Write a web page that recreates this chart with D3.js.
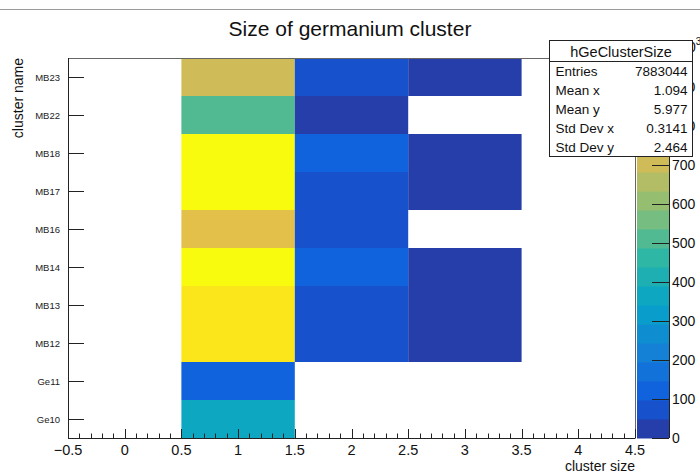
<!DOCTYPE html>
<html>
<head>
<meta charset="utf-8">
<script src="https://cdn.jsdelivr.net/npm/d3@7"></script>
<style>
  html, body { margin: 0; padding: 0; background: #fff; }
  svg { display: block; font-family: "Liberation Sans", Arial, Helvetica, sans-serif; }
</style>
</head>
<body>
<svg id="chart" width="700" height="473"></svg>
<script>
// Cluster names on the y axis (bottom to top)
const clusterNames = ["Ge10", "Ge11", "MB12", "MB13", "MB14", "MB16", "MB17", "MB18", "MB22", "MB23"];
// Cluster-size bins on the x axis
const sizeBins = [1, 2, 3];
// Counts per cluster name for each cluster size
const countsSize1 = [385000, 129000, 920000, 915000, 974000, 770000, 955000, 965000, 530000, 720000];
const countsSize2 = [0, 0, 55000, 55000, 110000, 55000, 55000, 110000, 25000, 55000];
const countsSize3 = [0, 0, 20000, 20000, 20000, 0, 20000, 20000, 0, 20000];
// x-axis tick labels
const xTickValues = [-0.5, 0, 0.5, 1, 1.5, 2, 2.5, 3, 3.5, 4, 4.5];
// colour-axis tick values (shown in units of 10^3)
const zTickValues = [0, 100000, 200000, 300000, 400000, 500000, 600000, 700000, 800000, 900000];
// statistics box
const statsName = "hGeClusterSize";
const statsLabels = ["Entries", "Mean x", "Mean y", "Std Dev x", "Std Dev y"];
const statsValues = ["7883044", "1.094", "5.977", "0.3141", "2.464"];

const nContours = 20;

// kBird palette
const birdStops = [0.0, 0.125, 0.25, 0.375, 0.5, 0.625, 0.75, 0.875, 1.0];
const birdR = [0.2082, 0.0592, 0.0780, 0.0232, 0.1802, 0.5301, 0.8186, 0.9956, 0.9764];
const birdG = [0.1664, 0.3599, 0.5041, 0.6419, 0.7178, 0.7492, 0.7328, 0.7862, 0.9832];
const birdB = [0.5293, 0.8684, 0.8385, 0.7914, 0.6425, 0.4662, 0.3499, 0.1968, 0.0539];
const birdColors = birdStops.map((s, i) => d3.rgb(birdR[i] * 255, birdG[i] * 255, birdB[i] * 255));
const bird = d3.scaleLinear().domain(birdStops).range(birdColors).interpolate(d3.interpolateRgb);

const seriesBySize = [countsSize1, countsSize2, countsSize3];
const cells = [];
sizeBins.forEach((s, si) => {
  clusterNames.forEach((name, ni) => {
    const v = seriesBySize[si][ni];
    if (v > 0) cells.push({ size: s, name: name, value: v });
  });
});

const zMax = d3.max(cells, d => d.value);
const bandOf = v => Math.min(nContours - 1, Math.floor(v / zMax * nContours));
const bandColor = i => bird(Math.min(1, (i + 0.99) / nContours));

const frame = { left: 68, right: 635, top: 58, bottom: 438 };
const svg = d3.select("#chart");

const x = d3.scaleLinear().domain([-0.5, 4.5]).range([frame.left, frame.right]);
const y = d3.scaleBand().domain(clusterNames).range([frame.bottom, frame.top]);
const z = d3.scaleLinear().domain([0, zMax]).range([frame.bottom, frame.top]);

// thin rule along the top of the canvas
svg.append("line").attr("x1", 0).attr("x2", 700).attr("y1", 9.5).attr("y2", 9.5)
  .attr("stroke", "#9a9a9a").attr("stroke-width", 1);

// title
svg.append("text").attr("x", 350).attr("y", 36).attr("text-anchor", "middle")
  .attr("font-size", 21).attr("fill", "#111").text("Size of germanium cluster");

// cells
svg.append("g").selectAll("rect").data(cells).join("rect")
  .attr("x", d => x(d.size - 0.5))
  .attr("width", d => x(d.size + 0.5) - x(d.size - 0.5))
  .attr("y", d => y(d.name))
  .attr("height", y.bandwidth())
  .attr("fill", d => bandColor(bandOf(d.value)));

// frame (top and right)
svg.append("path")
  .attr("d", `M${frame.left},${frame.top + 0.5}H${frame.right + 0.5}V${frame.bottom}`)
  .attr("fill", "none").attr("stroke", "#666").attr("stroke-width", 1);

// x axis with major ticks every 0.5 and minor ticks every 0.1
const xAxis = svg.append("g");
xAxis.append("line").attr("x1", frame.left).attr("x2", frame.right + 0.5)
  .attr("y1", frame.bottom + 0.5).attr("y2", frame.bottom + 0.5).attr("stroke", "#222");
const minorTicks = d3.range(0, 51).map(i => -0.5 + i * 0.1);
xAxis.selectAll("line.minor").data(minorTicks).join("line").attr("class", "minor")
  .attr("x1", d => Math.round(x(d)) + 0.5).attr("x2", d => Math.round(x(d)) + 0.5)
  .attr("y1", frame.bottom).attr("y2", (d, i) => frame.bottom - (i % 5 === 0 ? 9 : 4.5))
  .attr("stroke", "#222").attr("stroke-width", 1);
xAxis.selectAll("text").data(xTickValues).join("text")
  .attr("x", d => x(d)).attr("y", frame.bottom + 17)
  .attr("text-anchor", "middle").attr("font-size", 14.5).attr("fill", "#111")
  .text(d => d < 0 ? "\u2212" + Math.abs(d) : String(d));
svg.append("text").attr("x", frame.right).attr("y", 471).attr("text-anchor", "end")
  .attr("font-size", 14).attr("fill", "#111").text("cluster size");

// y axis
const yAxis = svg.append("g");
yAxis.append("line").attr("x1", frame.left + 0.5).attr("x2", frame.left + 0.5)
  .attr("y1", frame.top).attr("y2", frame.bottom + 1).attr("stroke", "#222");
yAxis.selectAll("line.tick").data(clusterNames).join("line").attr("class", "tick")
  .attr("x1", frame.left).attr("x2", frame.left + 16)
  .attr("y1", d => Math.round(y(d) + y.bandwidth() / 2) + 0.5)
  .attr("y2", d => Math.round(y(d) + y.bandwidth() / 2) + 0.5)
  .attr("stroke", "#222");
yAxis.selectAll("text").data(clusterNames).join("text")
  .attr("x", 60).attr("y", d => y(d) + y.bandwidth() / 2 + 3.5)
  .attr("text-anchor", "end").attr("font-size", 9.5).attr("fill", "#222")
  .text(d => d);
svg.append("text").attr("transform", `translate(23,${frame.top}) rotate(-90)`)
  .attr("text-anchor", "end").attr("font-size", 14).attr("fill", "#111").text("cluster name");

// colour palette
const pal = { x0: 637, x1: 669 };
const bandEdges = d3.range(nContours).map(i => ({ i: i, lo: zMax * i / nContours, hi: zMax * (i + 1) / nContours }));
svg.append("g").selectAll("rect").data(bandEdges).join("rect")
  .attr("x", pal.x0).attr("width", pal.x1 - pal.x0)
  .attr("y", d => z(d.hi)).attr("height", d => z(d.lo) - z(d.hi) + 0.5)
  .attr("fill", d => bandColor(d.i));
const zAxis = svg.append("g");
zAxis.append("line").attr("x1", pal.x1 + 0.5).attr("x2", pal.x1 + 0.5)
  .attr("y1", frame.top).attr("y2", frame.bottom).attr("stroke", "#222");
zAxis.selectAll("line.tick").data(zTickValues).join("line").attr("class", "tick")
  .attr("x1", pal.x1).attr("x2", pal.x1 - 17)
  .attr("y1", d => Math.round(z(d)) + 0.5).attr("y2", d => Math.round(z(d)) + 0.5)
  .attr("stroke", "#222");
zAxis.selectAll("text").data(zTickValues).join("text")
  .attr("x", pal.x1 + 3).attr("y", d => z(d) + 5)
  .attr("font-size", 14).attr("fill", "#111").text(d => d / 1000);
const expo = zAxis.append("text").attr("x", 672).attr("y", 52).attr("font-size", 14).attr("fill", "#111");
expo.append("tspan").text("\u00d710");
expo.append("tspan").attr("dy", -7).attr("font-size", 10).text("3");

// statistics box
const sb = { x: 549.5, y: 40.5, w: 143, h: 116, head: 21 };
const stats = svg.append("g");
stats.append("rect").attr("x", sb.x).attr("y", sb.y).attr("width", sb.w).attr("height", sb.h)
  .attr("fill", "#fff").attr("stroke", "#222");
stats.append("line").attr("x1", sb.x).attr("x2", sb.x + sb.w)
  .attr("y1", sb.y + sb.head).attr("y2", sb.y + sb.head).attr("stroke", "#222");
stats.append("text").attr("x", sb.x + sb.w / 2).attr("y", sb.y + 16)
  .attr("text-anchor", "middle").attr("font-size", 14.5).attr("fill", "#111").text(statsName);
const rowH = (sb.h - sb.head) / statsLabels.length;
stats.selectAll("text.lab").data(statsLabels).join("text").attr("class", "lab")
  .attr("x", sb.x + 6).attr("y", (d, i) => sb.y + sb.head + rowH * (i + 0.5) + 5)
  .attr("font-size", 13.5).attr("fill", "#111").text(d => d);
stats.selectAll("text.val").data(statsValues).join("text").attr("class", "val")
  .attr("x", sb.x + sb.w - 5).attr("y", (d, i) => sb.y + sb.head + rowH * (i + 0.5) + 5)
  .attr("text-anchor", "end").attr("font-size", 13.5).attr("fill", "#111").text(d => d);
</script>
</body>
</html>
